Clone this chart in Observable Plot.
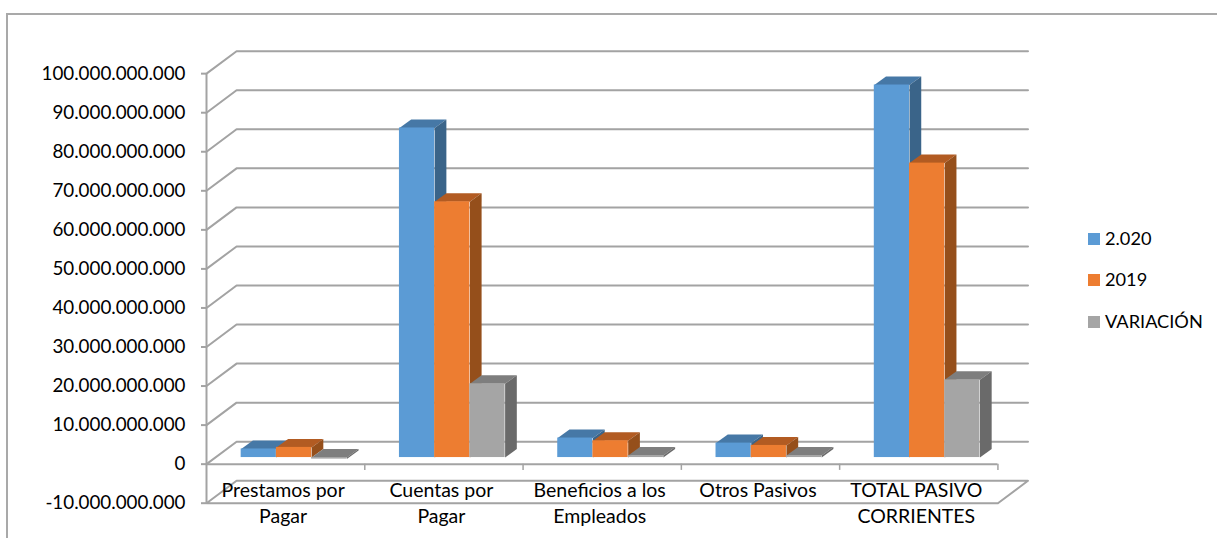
<!DOCTYPE html>
<html>
<head>
<meta charset="utf-8">
<script src="https://cdn.jsdelivr.net/npm/d3@7"></script>
<script src="https://cdn.jsdelivr.net/npm/@observablehq/plot@0.6"></script>
<style>
  html, body { margin: 0; padding: 0; background: #fff; overflow: hidden; }
  #frame { position: relative; width: 1217px; height: 538px; font-family: Lato, sans-serif; color: #000; }
  #frame svg { position: absolute; left: 0; top: 0; }
  #border { position: absolute; left: 6px; top: 13px; right: 0; bottom: 0; border-top: 2px solid #a9a9a9; border-left: 2px solid #a9a9a9; }
  .key { position: absolute; left: 1088px; display: flex; align-items: center; font-size: 18.2px; line-height: 18px; white-space: nowrap; }
  .key i { display: inline-block; width: 12px; height: 12px; margin-right: 5px; }
  .key span { position: relative; top: -1px; }
</style>
</head>
<body>
<div id="frame"><div id="border"></div></div>
<script>
const categories = ["Prestamos por\nPagar", "Cuentas por\nPagar", "Beneficios a los\nEmpleados", "Otros Pasivos", "TOTAL PASIVO\nCORRIENTES"];
const seriesNames = ["2.020", "2019", "VARIACIÓN"];
const values2020 = [2.2e9, 84.4e9, 5.0e9, 3.7e9, 95.4e9];
const values2019 = [2.6e9, 65.5e9, 4.3e9, 3.1e9, 75.4e9];
const valuesVar = [-0.4e9, 18.9e9, 0.5e9, 0.5e9, 19.9e9];
const yTicks = [-10e9, 0, 10e9, 20e9, 30e9, 40e9, 50e9, 60e9, 70e9, 80e9, 90e9, 100e9];

const faceColors = ["#5B9BD5", "#ED7D31", "#A5A5A5"];
const topColors = ["#4678A6", "#B25B22", "#7E7E7E"];
const sideColors = ["#3A6489", "#954F1B", "#6A6A6A"];
const gridColor = "#A3A3A3";

// Oblique projection, expressed in the units of the two scales
const depthX = 0.19, depthY = 5.75e9;           // wall depth
const barDepthX = 0.074, barDepthY = 2.18e9;    // bar depth
const barBase = 1.69e9;                         // bars stand a little behind the front edge
const barStart = 0.219, barWidth = 0.2225;      // within one category
const nCat = categories.length;

const fmt = d3.formatLocale({decimal: ",", thousands: ".", grouping: [3], currency: ["", ""], minus: "-"}).format(",");

// walls
const wallPaths = yTicks.filter(v => v >= 0).map(v => [
  {x: 0, y: v}, {x: depthX, y: v + depthY}, {x: nCat + depthX, y: v + depthY}
]);
const floorPath = [
  {x: 0, y: -10e9}, {x: nCat, y: -10e9}, {x: nCat + depthX, y: -10e9 + depthY},
  {x: depthX, y: -10e9 + depthY}, {x: 0, y: -10e9}
];
const wallMarks = [...wallPaths, floorPath].map(p =>
  Plot.line(p, {x: "x", y: "y", stroke: gridColor, strokeWidth: 2, curve: "linear"}));

// bars
const allSeries = [values2020, values2019, valuesVar];
const barMarks = [];
categories.forEach((_, c) => {
  allSeries.forEach((vals, s) => {
    const v = vals[c];
    const x0 = c + barStart + s * barWidth, x1 = x0 + barWidth;
    const hi = barBase + Math.max(v, 0), lo = barBase + Math.min(v, 0);
    const topFace = [
      {x: x0, y: hi}, {x: x1, y: hi},
      {x: x1 + barDepthX, y: hi + barDepthY}, {x: x0 + barDepthX, y: hi + barDepthY}
    ];
    const sideFace = [
      {x: x1, y: lo}, {x: x1, y: hi},
      {x: x1 + barDepthX, y: hi + barDepthY}, {x: x1 + barDepthX, y: lo + barDepthY}
    ];
    barMarks.push(
      Plot.line(topFace, {x: "x", y: "y", fill: topColors[s], stroke: "none"}),
      Plot.line(sideFace, {x: "x", y: "y", fill: sideColors[s], stroke: "none"}),
      Plot.rect([{x1: x0, x2: x1, y1: lo, y2: hi}], {x1: "x1", x2: "x2", y1: "y1", y2: "y2", fill: faceColors[s], inset: 0})
    );
  });
});

const chart = Plot.plot({
  width: 1217,
  height: 538,
  marginLeft: 206,
  marginRight: 189.5,
  marginTop: 50.7,
  marginBottom: 35.3,
  x: {domain: [0, nCat + depthX], axis: null},
  y: {domain: [-10e9, 100e9 + depthY], axis: null},
  style: {fontFamily: "Lato, sans-serif", fontSize: "18.8px", color: "#000", background: "transparent", overflow: "visible"},
  marks: [
    ...wallMarks,
    Plot.ruleX([0], {y1: -10e9, y2: 100e9, stroke: gridColor, strokeWidth: 2}),
    Plot.ruleY([0], {x1: 0, x2: nCat, stroke: gridColor, strokeWidth: 2}),
    Plot.ruleX(d3.range(1, nCat + 1), {y1: 0, y2: -1.6e9, stroke: gridColor, strokeWidth: 1.5}),
    Plot.axisY(yTicks, {
      anchor: "left", tickFormat: fmt, tickSize: 5, tickPadding: 16,
      stroke: gridColor, strokeWidth: 2, fill: "#000", fontSize: 18.8, label: null
    }),
    ...barMarks,
    Plot.text(categories, {
      x: (d, i) => i + 0.484, y: () => -3.7e9, text: d => d,
      lineAnchor: "top", lineHeight: 1.34, fontSize: 19.5, fill: "#000"
    })
  ]
});
const frame = document.getElementById("frame");
frame.appendChild(chart);

const keyTops = [230, 271, 313];
seriesNames.forEach((name, i) => {
  const k = document.createElement("div");
  k.className = "key";
  k.style.top = keyTops[i] + "px";
  const sw = document.createElement("i");
  sw.style.background = faceColors[i];
  const label = document.createElement("span");
  label.textContent = name;
  k.appendChild(sw);
  k.appendChild(label);
  frame.appendChild(k);
});
</script>
</body>
</html>
